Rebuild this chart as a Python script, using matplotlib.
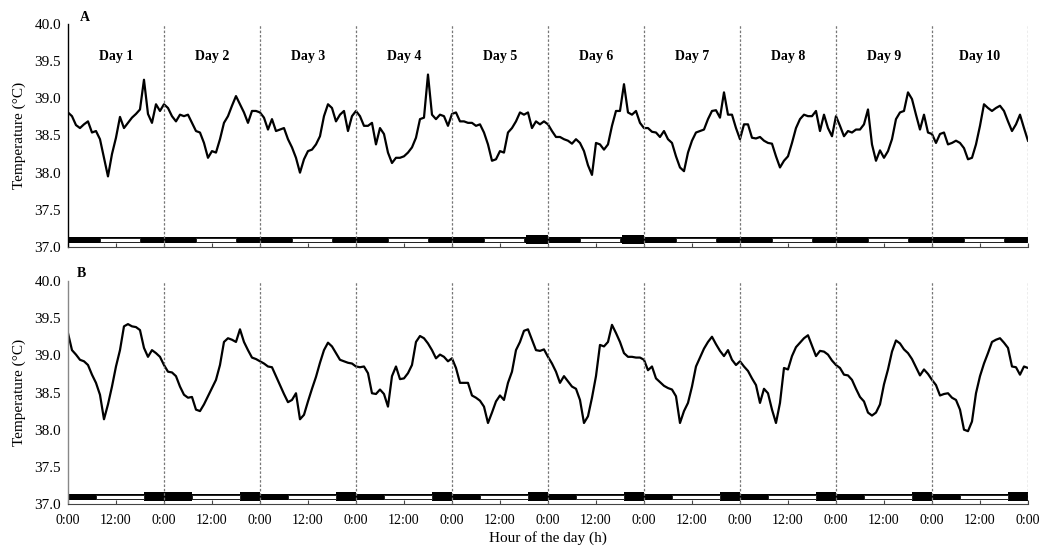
import numpy as np
import matplotlib
matplotlib.use("Agg")
import matplotlib.pyplot as plt

plt.rcParams['font.family'] = ['Liberation Serif', 'DejaVu Serif']

# hourly body temperature readings (deg C), 10 days, panel A
temp_a = [
    38.81, 38.76, 38.64, 38.60, 38.65, 38.69, 38.54, 38.56, 38.45, 38.20, 37.95, 38.25,
    38.47, 38.75, 38.60, 38.67, 38.74, 38.79, 38.85, 39.25, 38.79, 38.67, 38.92, 38.83,
    38.92, 38.87, 38.76, 38.69, 38.78, 38.76, 38.78, 38.67, 38.56, 38.54, 38.40, 38.20,
    38.29, 38.27, 38.45, 38.67, 38.76, 38.90, 39.03, 38.92, 38.81, 38.67, 38.83, 38.83,
    38.81, 38.74, 38.58, 38.72, 38.56, 38.58, 38.60, 38.45, 38.34, 38.20, 38.00, 38.18,
    38.29, 38.31, 38.38, 38.49, 38.76, 38.92, 38.87, 38.69, 38.78, 38.83, 38.56, 38.76,
    38.83, 38.76, 38.63, 38.63, 38.67, 38.38, 38.60, 38.52, 38.27, 38.13, 38.20, 38.20,
    38.22, 38.27, 38.34, 38.47, 38.72, 38.74, 39.32, 38.78, 38.72, 38.78, 38.76, 38.63,
    38.79, 38.81, 38.69, 38.69, 38.67, 38.67, 38.63, 38.65, 38.54, 38.38, 38.16, 38.18,
    38.29, 38.27, 38.54, 38.60, 38.69, 38.81, 38.78, 38.81, 38.60, 38.69, 38.65, 38.69,
    38.65, 38.56, 38.48, 38.48, 38.45, 38.43, 38.39, 38.45, 38.40, 38.29, 38.10, 37.97,
    38.40, 38.38, 38.31, 38.38, 38.63, 38.83, 38.83, 39.19, 38.81, 38.78, 38.83, 38.67,
    38.60, 38.60, 38.55, 38.54, 38.48, 38.56, 38.45, 38.40, 38.22, 38.07, 38.02, 38.27,
    38.43, 38.54, 38.56, 38.58, 38.72, 38.83, 38.84, 38.74, 39.08, 38.78, 38.78, 38.60,
    38.45, 38.65, 38.65, 38.47, 38.46, 38.48, 38.43, 38.40, 38.39, 38.22, 38.07, 38.16,
    38.22, 38.40, 38.60, 38.72, 38.78, 38.76, 38.76, 38.83, 38.56, 38.78, 38.60, 38.49,
    38.76, 38.63, 38.49, 38.56, 38.54, 38.58, 38.58, 38.65, 38.85, 38.38, 38.16, 38.30,
    38.20, 38.29, 38.45, 38.72, 38.81, 38.83, 39.08, 38.99, 38.78, 38.58, 38.78, 38.54,
    38.52, 38.40, 38.52, 38.54, 38.38, 38.40, 38.43, 38.40, 38.33, 38.18, 38.20, 38.38,
    38.63, 38.92, 38.87, 38.83, 38.87, 38.90, 38.83, 38.69, 38.56, 38.65, 38.78, 38.60,
    38.43,
]

# panel B
temp_b = [
    39.30, 39.07, 39.01, 38.94, 38.92, 38.87, 38.74, 38.63, 38.47, 38.14, 38.34, 38.58,
    38.85, 39.07, 39.39, 39.42, 39.39, 39.38, 39.34, 39.10, 38.98, 39.07, 39.03, 38.98,
    38.87, 38.78, 38.77, 38.72, 38.58, 38.47, 38.43, 38.44, 38.27, 38.25, 38.34, 38.45,
    38.56, 38.67, 38.87, 39.18, 39.23, 39.21, 39.18, 39.35, 39.18, 39.07, 38.97, 38.95,
    38.92, 38.89, 38.85, 38.84, 38.72, 38.60, 38.48, 38.37, 38.40, 38.49, 38.14, 38.20,
    38.38, 38.55, 38.71, 38.90, 39.07, 39.17, 39.12, 39.03, 38.94, 38.92, 38.90, 38.89,
    38.85, 38.84, 38.85, 38.76, 38.49, 38.48, 38.54, 38.48, 38.31, 38.72, 38.85, 38.68,
    38.69, 38.76, 38.87, 39.18, 39.26, 39.23, 39.16, 39.07, 38.96, 39.01, 38.98, 38.92,
    38.96, 38.83, 38.63, 38.63, 38.63, 38.46, 38.43, 38.39, 38.31, 38.09, 38.23, 38.38,
    38.46, 38.40, 38.63, 38.78, 39.07, 39.18, 39.33, 39.35, 39.21, 39.07, 39.06, 39.08,
    38.98, 38.89, 38.78, 38.63, 38.72, 38.65, 38.58, 38.55, 38.40, 38.09, 38.18, 38.43,
    38.72, 39.14, 39.12, 39.18, 39.41, 39.30, 39.18, 39.03, 38.98, 38.98, 38.97, 38.97,
    38.94, 38.80, 38.85, 38.69, 38.64, 38.59, 38.56, 38.54, 38.45, 38.09, 38.25, 38.36,
    38.58, 38.85, 38.97, 39.09, 39.18, 39.25, 39.15, 39.06, 38.99, 39.07, 38.94, 38.87,
    38.92, 38.85, 38.79, 38.69, 38.60, 38.36, 38.55, 38.49, 38.27, 38.09, 38.36, 38.83,
    38.81, 38.99, 39.11, 39.17, 39.23, 39.27, 39.13, 38.99, 39.06, 39.05, 39.01, 38.93,
    38.87, 38.83, 38.74, 38.73, 38.67, 38.55, 38.44, 38.38, 38.23, 38.19, 38.23, 38.34,
    38.61, 38.81, 39.05, 39.20, 39.16, 39.08, 39.03, 38.95, 38.84, 38.73, 38.81, 38.75,
    38.67, 38.60, 38.46, 38.48, 38.49, 38.43, 38.40, 38.27, 38.00, 37.98, 38.11, 38.49,
    38.72, 38.89, 39.03, 39.18, 39.21, 39.23, 39.17, 39.10, 38.85, 38.84, 38.74, 38.85,
    38.83,
]

hours = np.arange(len(temp_a))
day_labels = ['Day %d' % d for d in range(1, 11)]
tick_labels = ['0:00', '12:00'] * 10 + ['0:00']

# light (white) and dark (thick black) periods, hours from start
light_a = [(24 * d + 8, 10) for d in range(10)]
dark_a = [(4 * 24 + 18.5, 5.5), (5 * 24 + 18.5, 5.5)]
light_b = [(24 * d + 7, 12) for d in range(10)]
dark_b = [(19, 12)] + [(24 * d + 19, 5) for d in range(1, 10)]

fig = plt.figure(figsize=(10.41, 5.5), dpi=100)
ax_a = fig.add_axes([0.0653, 0.5509, 0.9222, 0.4055])
ax_b = fig.add_axes([0.0653, 0.0836, 0.9222, 0.4055])


def draw_panel(ax, temps, light, dark, spine_col):
    ax.plot(hours, temps, color='black', lw=1.6)
    ax.broken_barh([(0, 240)], (37.05, 0.08), facecolors='black')
    ax.broken_barh(dark, (37.045, 0.11), facecolors='black')
    ax.broken_barh(light, (37.065, 0.05), facecolors='white', edgecolors='#222222', lw=0.7)
    for d in range(1, 11):
        ax.axvline(24 * d, color='#777777', ls=(0, (2, 1.5)), lw=0.9)
    ax.set_xlim(0, 240)
    ax.set_ylim(37, 40)
    ax.set_yticks(np.arange(37, 40.01, 0.5))
    ax.set_yticklabels(['%.1f' % v for v in np.arange(37, 40.01, 0.5)], fontsize=11)
    ax.set_xticks(np.arange(0, 241, 12))
    ax.tick_params(axis='y', length=0, pad=5)
    ax.tick_params(axis='x', direction='in', length=3, width=0.8, color='#444444')
    for s in ['top', 'right']:
        ax.spines[s].set_visible(False)
    ax.spines['bottom'].set_color('#444444')
    ax.spines['bottom'].set_linewidth(0.8)
    ax.spines['left'].set_color(spine_col)
    ax.spines['left'].set_linewidth(1.0)
    ax.set_ylabel('Temperature (°C)', fontsize=11, labelpad=6)


draw_panel(ax_a, temp_a, light_a, dark_a, 'black')
draw_panel(ax_b, temp_b, light_b, dark_b, '#888888')

ax_a.set_xticklabels([])
ax_b.set_xticklabels(tick_labels, fontsize=10)
ax_b.tick_params(axis='x', pad=7)
ax_b.set_xlabel('Hour of the day (h)', fontsize=11, labelpad=3)

for i, lab in enumerate(day_labels):
    ax_a.text(24 * i + 12, 39.56, lab, ha='center', va='center', fontsize=10, fontweight='bold')

fig.text(0.0768, 0.969, 'A', fontsize=10, fontweight='bold', ha='left', va='center')
fig.text(0.0740, 0.5036, 'B', fontsize=10, fontweight='bold', ha='left', va='center')

fig.savefig('out.png', dpi=100)
